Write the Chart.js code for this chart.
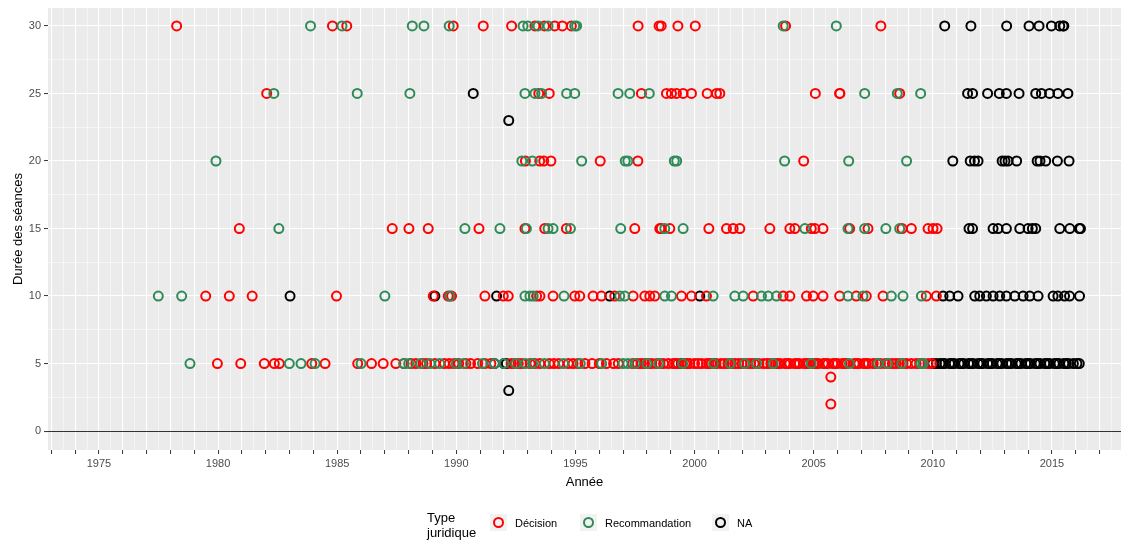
<!DOCTYPE html>
<html>
<head>
<meta charset="utf-8">
<script src="https://cdn.jsdelivr.net/npm/chart.js@4/dist/chart.umd.min.js"></script>
<style>
  body { margin: 0; background: #fff; }
  #wrap { position: relative; width: 1121px; height: 542px; font-family: 'Liberation Sans', Arial, sans-serif; }
  canvas { position: absolute; left: 0; top: 0; }
  .lg { position: absolute; color: #000; }
  .key { position: absolute; width: 17px; height: 17px; background: #F2F2F2; }
  .key span { position: absolute; left: 3px; top: 3px; width: 7px; height: 7px; border: 2px solid; border-radius: 50%; }
</style>
</head>
<body>
<div id="wrap">
  <canvas id="chart" width="1121" height="542"></canvas>
  <div class="lg" style="left:427px;top:510px;font-size:13px;line-height:15px;">Type<br>juridique</div>
  <div class="key" style="left:490px;top:514px;"><span style="border-color:#FF0000"></span></div>
  <div class="lg" style="left:515px;top:517px;font-size:11px;">Décision</div>
  <div class="key" style="left:580px;top:514px;"><span style="border-color:#2E8B57"></span></div>
  <div class="lg" style="left:605px;top:517px;font-size:11px;">Recommandation</div>
  <div class="key" style="left:712px;top:514px;"><span style="border-color:#000000"></span></div>
  <div class="lg" style="left:737px;top:517px;font-size:11px;">NA</div>
</div>
<script>
// Années par durée de séance, par type juridique
const decision30 = [1978.26, 1984.8, 1985.4, 1989.87, 1991.13, 1992.32, 1993.3, 1993.7, 1994.13, 1994.45, 1994.83,
  1997.63, 1998.51, 1998.6, 1999.3, 2000.03, 2003.82, 2007.82];
const decision25 = [1982.04, 1993.46, 1993.9, 1997.77, 1998.82, 1999.03, 1999.24, 1999.52, 1999.87, 2000.53, 2000.92,
  2001.06, 2005.07, 2006.09, 2006.1, 2008.61];
const decision20 = [1992.9, 1993.5, 1993.67, 1993.97, 1996.04, 1997.62, 2004.58];
const decision15 = [1980.89, 1987.31, 1988.01, 1988.82, 1990.95, 1992.88, 1993.71, 1994.62, 1997.49, 1998.54, 1998.6,
  1998.96, 2000.6, 2001.34, 2001.62, 2001.9, 2003.16, 2004.0, 2004.21, 2004.9, 2005.05, 2005.39, 2006.51, 2007.28,
  2008.71, 2009.1, 2009.8, 2010.01, 2010.18];
const decision10 = [1979.48, 1980.47, 1981.43, 1984.97, 1989.03, 1989.66, 1989.8, 1991.2, 1991.97, 1992.18, 1993.37,
  1993.51, 1994.06, 1994.97, 1995.18, 1995.74, 1996.09, 1996.65, 1997.42, 1997.91, 1998.12, 1998.33, 1999.45, 1999.87,
  2000.5, 2002.46, 2003.72, 2004.0, 2004.7, 2004.98, 2005.39, 2006.09, 2006.79, 2007.21, 2007.91, 2009.73, 2010.15];
const decision5 = [1979.97, 1980.95, 1981.94, 1982.36, 1982.57, 1983.93, 1984.49, 1985.86, 1986.44, 1986.93, 1987.46,
  1987.8, 1988.1, 1988.3, 1988.6, 1988.75, 1989.1, 1989.5, 1989.7, 1989.9, 1990.1, 1990.4, 1990.6, 1990.9, 1991.2,
  1991.45, 1992.3, 1992.45, 1992.6, 1992.75, 1993.1, 1993.3, 1993.5, 1993.9, 1994.1, 1994.3, 1994.7, 1994.9, 1995.1,
  1995.4, 1995.7, 1996.0, 1996.3, 1996.6, 1996.8, 1997.4, 1997.6, 1997.9, 1998.2, 1998.4, 1998.7, 1998.9, 1999.1,
  1999.3, 1999.6, 1999.8, 2000.0, 2000.3, 2000.5, 2000.7, 2000.9, 2001.1, 2001.4, 2001.7, 2002.0, 2002.2, 2002.5,
  2002.7, 2002.9, 2003.2, 2003.4, 2003.6, 2003.8, 2004.0, 2004.2, 2004.4, 2004.6, 2004.8, 2005.0, 2005.2, 2005.4,
  2005.6, 2005.8, 2006.0, 2006.2, 2006.4, 2006.7, 2006.9, 2007.1, 2007.3, 2007.5, 2007.8, 2008.0, 2008.3, 2008.6,
  2008.9, 2009.1, 2009.3, 2009.6, 2009.8, 2009.95,
  1997.75, 1998.05, 1998.55, 1999.2, 1999.7, 2000.15, 2000.6, 2001.25, 2001.55, 2001.85, 2002.35, 2003.05, 2003.5,
  2003.9, 2004.3, 2004.7, 2005.1, 2005.5, 2005.9, 2006.3, 2006.8, 2007.2, 2007.65, 2008.15, 2008.45, 2008.75, 2009.45];
const decisionOther = [[2005.72, 4], [2005.72, 2]];

const recomm30 = [1983.88, 1985.2, 1988.15, 1988.64, 1989.7, 1992.8, 1993.0, 1993.43, 1993.85, 1994.97, 1995.05,
  2003.72, 2005.95];
const recomm25 = [1982.34, 1985.84, 1988.05, 1992.88, 1993.3, 1993.58, 1994.63, 1994.97, 1996.79, 1997.28, 1998.1,
  2007.14, 2008.51, 2009.49];
const recomm20 = [1979.91, 1992.75, 1993.19, 1995.26, 1997.09, 1997.2, 1999.15, 1999.25, 2003.78, 2006.47, 2008.9];
const recomm15 = [1982.55, 1990.36, 1991.83, 1992.94, 1993.85, 1994.06, 1994.79, 1996.9, 1998.75, 1999.52, 2004.63,
  2006.44, 2007.14, 2008.03, 2008.61];
const recomm10 = [1977.49, 1978.47, 1987.0, 1989.73, 1992.88, 1993.09, 1993.23, 1994.52, 1996.86, 1997.07, 1998.75,
  1999.03, 2000.78, 2001.69, 2002.04, 2002.81, 2003.09, 2003.44, 2006.44, 2007.07, 2008.26, 2008.75, 2009.52];
const recomm5 = [1978.82, 1982.99, 1983.48, 1984.07, 1986.0, 1987.8, 1988.0, 1988.5, 1988.9, 1989.3, 1990.0, 1990.3,
  1991.1, 1991.6, 1992.0, 1992.5, 1992.9, 1993.2, 1993.7, 1994.5, 1995.2, 1996.1, 1997.0, 1997.2, 1997.5, 1998.0,
  1998.5, 1999.5, 2000.8, 2001.5, 2002.1, 2002.6, 2003.3, 2004.9, 2006.5, 2007.7, 2008.1, 2008.7, 2009.5, 2009.6];

const na30 = [2010.5, 2011.6, 2013.1, 2014.04, 2014.46, 2014.98, 2015.33, 2015.47, 2015.5];
const na25 = [1990.71, 2011.46, 2011.67, 2012.3, 2012.79, 2013.09, 2013.62, 2014.32, 2014.56, 2014.9, 2015.25, 2015.67];
const na20 = [2010.84, 2011.57, 2011.75, 2011.9, 2012.91, 2013.03, 2013.16, 2013.52, 2014.38, 2014.5, 2014.74,
  2015.23, 2015.72];
const na15 = [2011.52, 2011.67, 2012.53, 2012.74, 2013.09, 2013.65, 2014.0, 2014.18, 2014.32, 2015.33, 2015.75,
  2016.15, 2016.2];
const na10 = [1983.02, 1989.1, 1991.69, 1996.44, 2000.22, 2010.43, 2010.71, 2011.06, 2011.76, 2011.97, 2012.25,
  2012.53, 2012.81, 2013.09, 2013.44, 2013.79, 2014.07, 2014.42, 2015.05, 2015.25, 2015.53, 2015.74, 2016.16];
const na5 = [1991.6, 1992.0, 1992.1, 1999.45, 2000.85, 2010.0, 2010.15, 2010.3, 2010.5, 2010.7, 2010.9, 2011.1,
  2011.3, 2011.5, 2011.7, 2011.9, 2012.1, 2012.3, 2012.5, 2012.7, 2012.9, 2013.1, 2013.3, 2013.5, 2013.7, 2013.9,
  2014.1, 2014.3, 2014.5, 2014.7, 2014.9, 2015.1, 2015.3, 2015.5, 2015.7, 2015.9, 2016.15,
  2010.4, 2010.8, 2011.2, 2011.6, 2012.0, 2012.4, 2012.8, 2013.2, 2013.6, 2014.0, 2014.4, 2014.8, 2015.2, 2015.6, 2016.05];
const naOther = [[1992.2, 23], [1992.2, 3]];

const yearLabels = [1975, 1980, 1985, 1990, 1995, 2000, 2005, 2010, 2015];
const durationLabels = [0, 5, 10, 15, 20, 25, 30];

function rows(byDuration, other) {
  const out = [];
  byDuration.forEach(([d, years]) => years.forEach(x => out.push({ x: x, y: d })));
  other.forEach(([x, y]) => out.push({ x: x, y: y }));
  return out;
}

const decisionData = rows([[30, decision30], [25, decision25], [20, decision20], [15, decision15], [10, decision10], [5, decision5]], decisionOther);
const recommData = rows([[30, recomm30], [25, recomm25], [20, recomm20], [15, recomm15], [10, recomm10], [5, recomm5]], []);
const naData = rows([[30, na30], [25, na25], [20, na20], [15, na15], [10, na10], [5, na5]], naOther);

const panelBg = {
  id: 'panelBg',
  beforeDraw(chart) {
    const a = chart.chartArea, c = chart.ctx;
    c.save();
    c.fillStyle = '#EBEBEB';
    c.fillRect(a.left, a.top, a.right - a.left, a.bottom - a.top);
    c.restore();
  }
};

const pointStyle = { pointStyle: 'circle', pointRadius: 4.5, pointHoverRadius: 4.5, borderWidth: 2, backgroundColor: 'rgba(0,0,0,0)' };
const tickFont = { family: "'Liberation Sans', Arial, sans-serif", size: 11 };
const titleFont = { family: "'Liberation Sans', Arial, sans-serif", size: 13 };

new Chart(document.getElementById('chart').getContext('2d'), {
  type: 'scatter',
  data: {
    datasets: [
      Object.assign({ label: 'Recommandation', data: recommData, borderColor: '#2E8B57' }, pointStyle),
      Object.assign({ label: 'Décision', data: decisionData, borderColor: '#FF0000' }, pointStyle),
      Object.assign({ label: 'NA', data: naData, borderColor: '#000000' }, pointStyle)
    ]
  },
  options: {
    responsive: false,
    animation: false,
    events: [],
    layout: { autoPadding: false, padding: { left: 0, right: 0, top: 8, bottom: 52 } },
    plugins: { legend: { display: false }, tooltip: { enabled: false } },
    scales: {
      x: {
        type: 'linear',
        min: 1972.86,
        max: 2017.9,
        afterBuildTicks(scale) {
          const t = [];
          for (let v = 1973; v <= 2017.5; v += 0.5) t.push({ value: v });
          scale.ticks = t;
        },
        afterFit(scale) {
          scale.height = 40;
          scale.paddingLeft = 0;
          scale.paddingRight = 0;
        },
        border: { display: false },
        grid: {
          color: '#FFFFFF',
          lineWidth: ctx => (ctx.tick && ctx.tick.value % 1 === 0) ? 1.1 : 0.5,
          tickColor: ctx => (ctx.tick && ctx.tick.value % 1 === 0) ? '#333333' : 'rgba(0,0,0,0)',
          tickLength: 4,
          tickWidth: 1
        },
        ticks: {
          autoSkip: false,
          maxRotation: 0,
          padding: 3,
          color: '#4D4D4D',
          font: tickFont,
          callback: v => yearLabels.includes(v) ? String(v) : ''
        },
        title: { display: true, text: 'Année', color: '#000', font: titleFont, padding: { top: 0, bottom: 0 } }
      },
      y: {
        min: -1.4,
        max: 31.33,
        afterBuildTicks(scale) {
          const t = [];
          for (let v = 0; v <= 30; v += 2.5) t.push({ value: v });
          scale.ticks = t;
        },
        afterFit(scale) {
          scale.width = 48;
          scale.paddingTop = 0;
          scale.paddingBottom = 0;
        },
        border: { display: false },
        grid: {
          color: ctx => (ctx.tick && ctx.tick.value === 0) ? '#333333' : '#FFFFFF',
          lineWidth: ctx => (ctx.tick && ctx.tick.value % 5 === 0) ? 1.1 : 0.5,
          tickColor: ctx => (ctx.tick && ctx.tick.value % 5 === 0) ? '#333333' : 'rgba(0,0,0,0)',
          tickLength: 4,
          tickWidth: 1
        },
        ticks: {
          autoSkip: false,
          padding: 3,
          color: '#4D4D4D',
          font: tickFont,
          callback: v => durationLabels.includes(v) ? String(v) : ''
        },
        title: { display: true, text: 'Durée des séances', color: '#000', font: titleFont, padding: { top: 11, bottom: 0 } }
      }
    }
  },
  plugins: [panelBg]
});
</script>
</body>
</html>
